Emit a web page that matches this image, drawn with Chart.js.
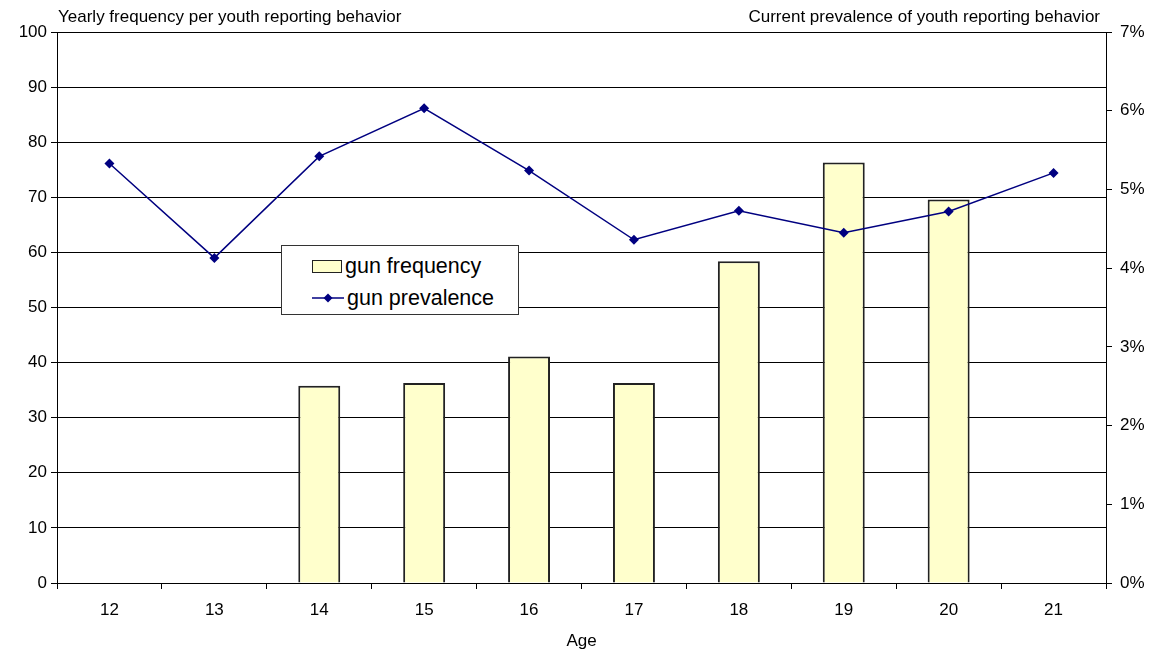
<!DOCTYPE html>
<html>
<head>
<meta charset="utf-8">
<script src="https://cdn.jsdelivr.net/npm/chart.js@4"></script>
<style>
  body { margin: 0; background: #fff; }
  #wrap { position: relative; width: 1156px; height: 652px; }
  #legend {
    position: absolute; left: 281px; top: 245px; width: 236px; height: 68px;
    border: 1px solid #333; background: #fff; font-family: "Liberation Sans", Arial, sans-serif;
    font-size: 21.5px; color: #000;
  }
  .row { position: absolute; left: 30px; height: 24px; line-height: 24px; white-space: nowrap; }
  .sw { display: inline-block; vertical-align: middle; margin-right: 3px; position: relative; top: -1px; }
</style>
</head>
<body>
<div id="wrap">
  <canvas id="chart" width="1156" height="652"></canvas>
  <div id="legend">
    <div class="row" style="top:8px"><span class="sw" style="background:#ffffcc;border:1.5px solid #222;width:28px;height:11px"></span>gun frequency</div>
    <div class="row" style="top:40px"><span class="sw" style="width:32px;height:12px"><svg width="32" height="12" style="display:block"><line x1="0" y1="6" x2="32" y2="6" stroke="#000080" stroke-width="1.5"/><polygon points="16,1.5 20.5,6 16,10.5 11.5,6" fill="#000080"/></svg></span>gun prevalence</div>
  </div>
</div>
<script>
const ages = ['12', '13', '14', '15', '16', '17', '18', '19', '20', '21'];
const gunFrequency = [null, null, 35.8, 36.3, 41.1, 36.3, 58.4, 76.3, 69.6, null];
const gunPrevalence = [5.33, 4.13, 5.42, 6.03, 5.24, 4.36, 4.73, 4.45, 4.72, 5.21];
const leftTicks = [0, 10, 20, 30, 40, 50, 60, 70, 80, 90, 100];
const rightTicks = [0, 1, 2, 3, 4, 5, 6, 7];

const font = "Liberation Sans";

const topTitles = {
  id: 'topTitles',
  afterDraw(chart) {
    const c = chart.ctx;
    const a = chart.chartArea;
    c.save();
    c.fillStyle = '#000';
    c.font = '17px ' + font;
    c.textBaseline = 'middle';
    c.textAlign = 'left';
    c.fillText('Yearly frequency per youth reporting behavior', a.left + 1, 17);
    c.textAlign = 'right';
    c.fillText('Current prevalence of youth reporting behavior', a.right - 6, 17);
    c.restore();
  }
};

new Chart(document.getElementById('chart'), {
  data: {
    labels: ages,
    datasets: [
      {
        type: 'line',
        label: 'gun prevalence',
        data: gunPrevalence,
        yAxisID: 'y2',
        borderColor: '#000080',
        backgroundColor: '#000080',
        borderWidth: 1.5,
        pointStyle: 'rectRot',
        pointRadius: 5,
        pointBorderWidth: 0,
        tension: 0,
        order: 0
      },
      {
        type: 'bar',
        label: 'gun frequency',
        data: gunFrequency,
        yAxisID: 'y',
        backgroundColor: '#ffffcc',
        borderColor: '#222',
        borderWidth: 2,
        barPercentage: 0.4,
        categoryPercentage: 1,
        order: 1
      }
    ]
  },
  options: {
    responsive: false,
    animation: false,
    layout: { padding: { top: 32, left: 0, right: 0, bottom: 0 } },
    plugins: {
      legend: { display: false },
      tooltip: { enabled: false }
    },
    scales: {
      x: {
        offset: true,
        grid: { offset: true, drawOnChartArea: false, color: '#000', tickLength: 6 },
        border: { color: '#000' },
        ticks: { color: '#000', font: { family: font, size: 17 }, padding: 11 },
        title: { display: true, text: 'Age', color: '#000', font: { family: font, size: 17 }, padding: { top: 0, bottom: 0 } },
        afterFit(s) { s.height = 69; }
      },
      y: {
        position: 'left',
        min: 0, max: 100,
        afterBuildTicks(s) { s.ticks = leftTicks.map(v => ({ value: v })); },
        grid: { color: '#000', tickLength: 6 },
        border: { color: '#000' },
        ticks: { color: '#000', font: { family: font, size: 17 }, padding: 4 },
        afterFit(s) { s.width = 57; }
      },
      y2: {
        position: 'right',
        min: 0, max: 7,
        afterBuildTicks(s) { s.ticks = rightTicks.map(v => ({ value: v })); },
        grid: { drawOnChartArea: false, color: '#000', tickLength: 6 },
        border: { color: '#000' },
        ticks: { color: '#000', font: { family: font, size: 17 }, padding: 8, callback: v => v + '%' },
        afterFit(s) { s.width = 50; }
      }
    }
  },
  plugins: [topTitles]
});
</script>
</body>
</html>
